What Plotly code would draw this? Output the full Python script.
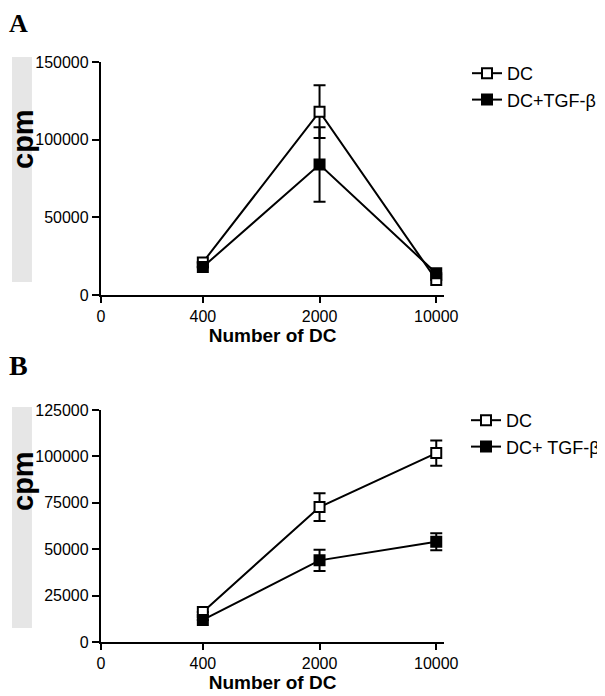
import plotly.graph_objects as go
import math

# ---- data ----
x_dc = [400, 2000, 10000]
tick_vals = [98, 400, 2000, 10000]
tick_text = ["0", "400", "2000", "10000"]

a_dc = [21000, 118000, 9700]
a_dc_err = [0, 17000, 0]
a_tgf = [18000, 84000, 14000]
a_tgf_err = [0, 24000, 0]

b_dc = [16200, 72700, 101800]
b_dc_err = [0, 7500, 6800]
b_tgf = [11900, 44000, 54000]
b_tgf_err = [0, 5700, 4600]

a_yticks = [0, 50000, 100000, 150000]
b_yticks = [0, 25000, 50000, 75000, 100000, 125000]

OFF = 8  # default page body margin
W, H = 605 - OFF, 696 - OFF
FONT = "Liberation Sans, Arial, sans-serif"

def px(v):
    return (v - OFF) / W

def py(v):
    return 1 - (v - OFF) / H

fig = go.Figure()

def add_series(x, y, err, name, fill, xa, ya, legend):
    fig.add_trace(go.Scatter(
        x=x, y=y, name=name, mode="lines+markers",
        xaxis=xa, yaxis=ya, legend=legend,
        line=dict(color="black", width=2),
        marker=dict(symbol="square", size=10, color=fill,
                    line=dict(color="black", width=2)),
        error_y=dict(type="data", array=err, visible=True,
                     color="black", thickness=2, width=6),
    ))

add_series(x_dc, a_dc, a_dc_err, "DC", "white", "x", "y", "legend")
add_series(x_dc, a_tgf, a_tgf_err, "DC+TGF-β", "black", "x", "y", "legend")
add_series(x_dc, b_dc, b_dc_err, "DC", "white", "x2", "y2", "legend2")
add_series(x_dc, b_tgf, b_tgf_err, "DC+ TGF-β", "black", "x2", "y2", "legend2")

xr = [math.log10(98), 4.048]

xcommon = dict(type="log", range=xr, tickmode="array", tickvals=tick_vals,
               ticktext=tick_text, showline=True, linecolor="black",
               linewidth=2, ticks="outside", ticklen=6, tickwidth=2,
               tickcolor="black", showgrid=False, zeroline=False,
               automargin=False,
               tickfont=dict(family=FONT, size=16, color="black"),
               title=dict(text="<b>Number of DC</b>", standoff=0,
                          font=dict(family=FONT, size=19, color="black")))
ycommon = dict(showline=True, linecolor="black", linewidth=2,
               ticks="outside", ticklen=7, tickwidth=2, tickcolor="black",
               showgrid=False, zeroline=False, tickmode="array",
               automargin=False,
               tickfont=dict(family=FONT, size=16, color="black"))

fig.update_layout(
    width=W, height=H, margin=dict(l=0, r=0, t=0, b=0),
    paper_bgcolor="white", plot_bgcolor="white",
    xaxis=dict(domain=[px(101), px(445)], anchor="y", **xcommon),
    yaxis=dict(domain=[py(295), py(62)], anchor="x", range=[0, 150000],
               tickvals=a_yticks, ticktext=[str(v) for v in a_yticks],
               **ycommon),
    xaxis2=dict(domain=[px(101), px(445)], anchor="y2", **xcommon),
    yaxis2=dict(domain=[py(642), py(410)], anchor="x2", range=[0, 125000],
                tickvals=b_yticks, ticktext=[str(v) for v in b_yticks],
                **ycommon),
    legend=dict(x=px(467), y=py(55), xanchor="left", yanchor="top",
                font=dict(family=FONT, size=18, color="black"),
                bgcolor="rgba(0,0,0,0)", tracegroupgap=0, itemwidth=30),
    legend2=dict(x=px(467), y=py(402), xanchor="left", yanchor="top",
                 font=dict(family=FONT, size=18, color="black"),
                 bgcolor="rgba(0,0,0,0)", tracegroupgap=0, itemwidth=30),
    showlegend=True,
)

# stippled bands behind the y titles
for (y0, y1) in [(57, 282), (407, 628)]:
    fig.add_shape(type="rect", xref="paper", yref="paper",
                  x0=px(12), x1=px(32), y0=py(y1), y1=py(y0),
                  fillcolor="#e6e6e6", line=dict(width=0), layer="below")

# y titles
for yc in [139, 481]:
    fig.add_annotation(text="<b>cpm</b>", xref="paper", yref="paper",
                       x=px(23), y=py(yc), showarrow=False, textangle=-90,
                       xanchor="center", yanchor="middle",
                       font=dict(family=FONT, size=29, color="black"))

# panel letters
SERIF = "Liberation Serif, Times New Roman, serif"
fig.add_annotation(text="<b>A</b>", xref="paper", yref="paper",
                   x=px(19), y=1, xanchor="center", yanchor="top",
                   showarrow=False, borderpad=0,
                   font=dict(family=SERIF, size=26, color="black"))
fig.add_annotation(text="<b>B</b>", xref="paper", yref="paper",
                   x=px(19), y=py(365), xanchor="center", yanchor="middle",
                   showarrow=False,
                   font=dict(family=SERIF, size=28, color="black"))

fig.write_html("out.html")
